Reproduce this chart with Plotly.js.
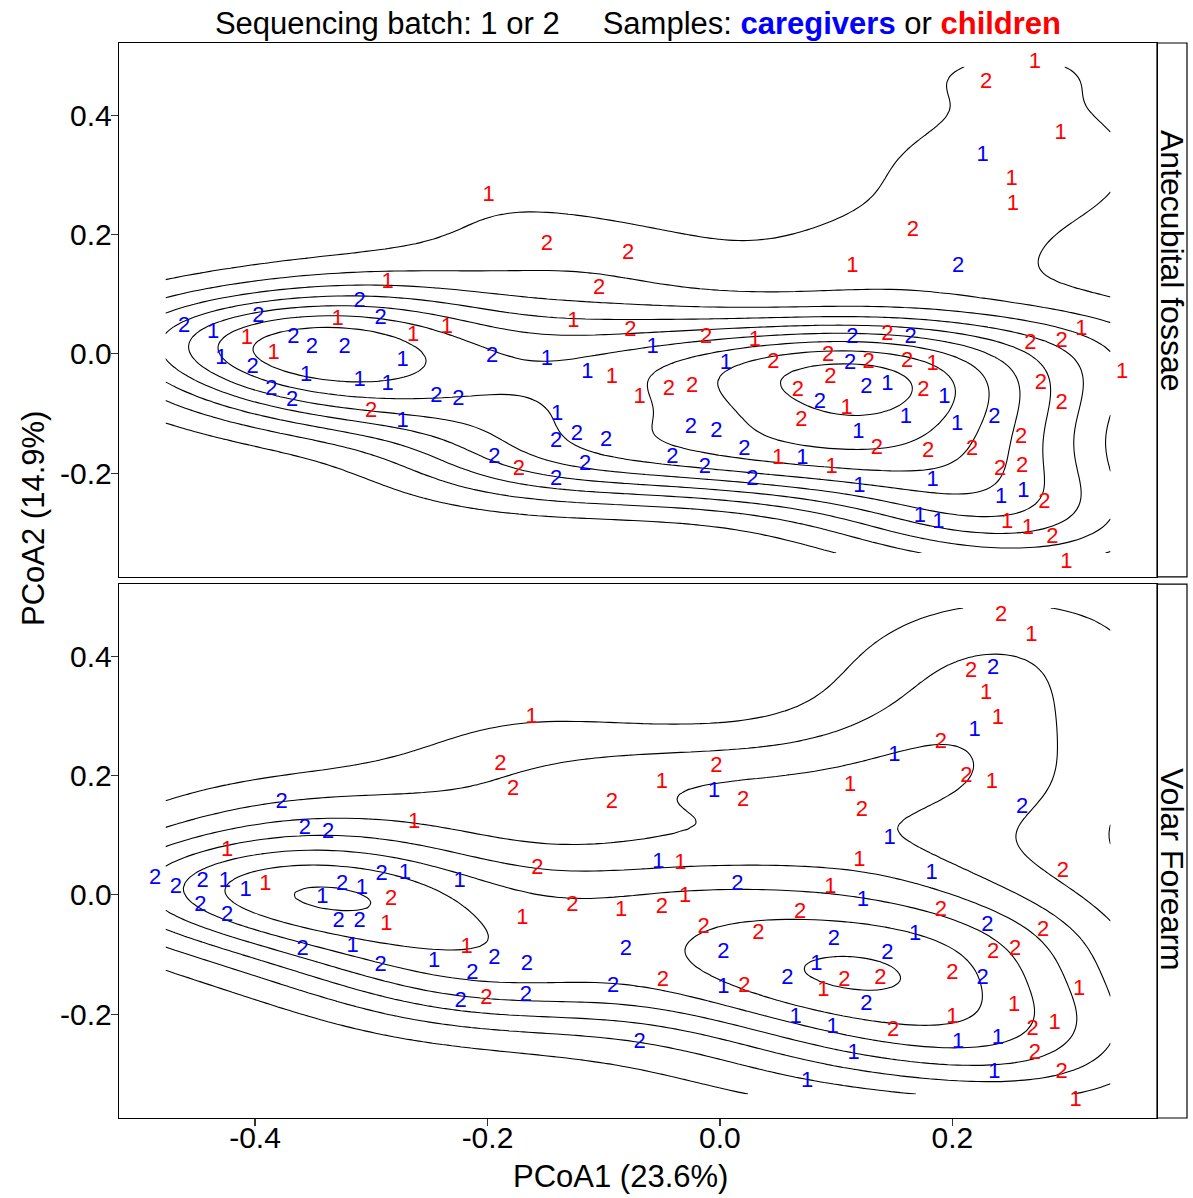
<!DOCTYPE html>
<html>
<head>
<meta charset="utf-8">
<script src="https://cdn.plot.ly/plotly-3.0.1.min.js"></script>
<style>html,body{margin:0;padding:0;background:#fff;}#plot{width:1193px;height:1198px;}</style>
</head>
<body>
<div id="plot"></div>
<script>
// ---------- DATA ----------
const facetNames = ["Antecubital fossae", "Volar Forearm"];
const xTickVals = [-0.4, -0.2, 0.0, 0.2];
const xTickText = ["-0.4", "-0.2", "0.0", "0.2"];
const yTickVals = [-0.2, 0.0, 0.2, 0.4];
const yTickText = ["-0.2", "0.0", "0.2", "0.4"];
// extent of the density grid as seen in the reference
const gridXLim = [-0.477, 0.336];
const gridYLim = [-0.334, 0.481];

// Antecubital fossae - caregivers (blue)
const antCareX = [0.226,0.205,-0.461,-0.397,-0.310,-0.292,-0.436,-0.367,-0.351,-0.323,-0.429,-0.402,-0.273,-0.356,-0.310,-0.286,-0.386,-0.368,-0.244,-0.225,-0.273,-0.196,-0.149,-0.058,-0.114,0.005,-0.140,-0.141,-0.123,-0.098,-0.025,-0.003,-0.194,-0.141,-0.116,-0.041,-0.013,0.021,0.028,0.071,0.114,0.164,0.112,0.126,0.144,0.193,0.086,0.160,0.204,0.236,0.119,0.183,0.120,0.242,0.261,0.172,0.188];
const antCareY = [0.332,0.147,0.045,0.062,0.087,0.060,0.035,0.028,0.010,0.010,-0.007,-0.023,-0.012,-0.037,-0.044,-0.052,-0.060,-0.079,-0.072,-0.077,-0.114,-0.005,-0.010,0.010,-0.032,-0.017,-0.102,-0.147,-0.136,-0.146,-0.124,-0.131,-0.174,-0.211,-0.186,-0.173,-0.191,-0.161,-0.211,-0.176,0.027,0.028,-0.017,-0.057,-0.052,-0.074,-0.082,-0.107,-0.119,-0.106,-0.132,-0.213,-0.223,-0.241,-0.231,-0.273,-0.282];
const antCareBatch = [1,2,2,2,2,2,1,2,2,2,1,2,1,1,1,1,2,2,2,2,1,2,1,1,1,1,1,2,2,2,2,2,2,2,2,2,2,2,2,1,2,2,2,2,1,1,2,1,1,2,1,1,1,1,1,1,1];

// Antecubital fossae - children (red)
const antChildX = [-0.199,-0.149,-0.079,-0.104,-0.286,-0.126,-0.077,-0.012,0.030,-0.329,-0.235,-0.264,-0.407,-0.384,-0.300,-0.173,-0.093,-0.069,-0.044,-0.024,0.046,0.067,0.070,0.050,0.271,0.229,0.293,0.251,0.252,0.166,0.114,0.144,0.093,0.128,0.161,0.183,0.095,0.175,0.109,0.135,0.179,0.217,0.259,0.096,0.241,0.260,0.279,0.247,0.265,0.286,0.298,0.267,0.294,0.311,0.346,0.276,0.294];
const antChildY = [0.266,0.183,0.169,0.109,0.119,0.054,0.039,0.027,0.023,0.057,0.044,0.030,0.025,0.000,-0.096,-0.194,-0.039,-0.074,-0.060,-0.054,-0.015,-0.062,-0.111,-0.176,0.488,0.454,0.370,0.292,0.251,0.206,0.147,0.032,-0.002,-0.015,-0.013,-0.018,-0.040,-0.062,-0.092,-0.159,-0.164,-0.161,-0.141,-0.191,-0.194,-0.189,-0.250,-0.282,-0.292,-0.308,-0.349,0.018,0.020,0.040,-0.032,-0.049,-0.084];
const antChildBatch = [1,2,2,2,1,1,2,2,1,1,1,1,1,1,2,2,1,1,2,2,2,2,2,1,1,2,1,1,1,2,1,2,2,2,2,1,2,2,1,2,2,2,2,1,2,2,2,1,1,2,1,2,2,1,1,2,2];

// Volar Forearm - caregivers (blue)
const volCareX = [-0.377,-0.357,-0.337,0.235,0.219,0.150,-0.005,0.260,0.146,-0.486,-0.468,-0.445,-0.426,-0.408,-0.447,-0.424,-0.342,-0.325,-0.308,-0.291,-0.271,-0.328,-0.310,-0.224,-0.359,-0.316,-0.292,-0.246,-0.194,-0.166,-0.213,-0.223,-0.167,-0.053,0.015,-0.081,0.003,0.003,0.058,-0.092,-0.069,0.065,0.075,0.182,0.123,0.230,0.168,0.098,0.144,0.083,0.226,0.126,0.097,0.205,0.239,0.115,0.236];
const volCareY = [0.154,0.111,0.104,0.379,0.275,0.233,0.174,0.146,0.094,0.028,0.013,0.023,0.023,0.007,-0.018,-0.035,-0.005,0.018,0.010,0.034,0.035,-0.045,-0.044,0.023,-0.091,-0.087,-0.119,-0.111,-0.107,-0.117,-0.131,-0.179,-0.168,0.054,0.018,-0.092,-0.096,-0.156,-0.141,-0.154,-0.248,-0.206,-0.313,0.035,-0.010,-0.052,-0.067,-0.075,-0.099,-0.116,-0.141,-0.183,-0.223,-0.248,-0.240,-0.266,-0.298];
const volCareBatch = [2,2,2,2,1,1,1,2,1,2,2,2,1,1,2,2,1,2,1,2,1,2,2,1,2,1,2,1,2,2,2,2,2,1,2,2,2,1,2,2,2,1,1,1,1,2,1,2,2,1,2,2,1,1,1,1,1];

// Volar Forearm - children (red)
const volChildX = [-0.263,-0.424,-0.162,-0.189,-0.178,-0.050,-0.093,-0.003,0.020,0.242,0.268,0.216,0.229,0.239,0.190,0.112,0.212,0.234,0.122,-0.391,-0.283,-0.287,-0.218,-0.157,-0.034,-0.030,-0.127,-0.085,-0.050,-0.170,-0.014,0.033,0.069,-0.049,0.021,-0.201,0.120,0.295,0.095,0.190,0.278,0.235,0.254,0.200,0.107,0.138,0.089,0.309,0.253,0.200,0.149,0.269,0.288,0.271,0.294,0.306];
const volChildY = [0.122,0.074,0.298,0.218,0.176,0.188,0.154,0.216,0.159,0.468,0.434,0.375,0.337,0.295,0.255,0.183,0.198,0.188,0.141,0.017,-0.007,-0.049,-0.089,0.045,0.052,-0.002,-0.018,-0.027,-0.022,-0.040,-0.055,-0.065,-0.030,-0.144,-0.153,-0.174,0.057,0.039,0.012,-0.027,-0.060,-0.096,-0.091,-0.131,-0.144,-0.141,-0.161,-0.158,-0.186,-0.206,-0.228,-0.225,-0.216,-0.266,-0.298,-0.345];
const volChildBatch = [1,1,1,2,2,1,2,2,2,2,1,2,1,1,2,1,2,1,2,1,2,1,1,2,1,1,2,1,2,1,2,2,2,2,2,2,1,2,1,2,2,2,2,2,2,2,1,1,1,1,2,2,1,2,2,1];

// ---------- KDE (MASS::kde2d style, as ggplot2 stat_density_2d) ----------
function quantile(sorted, p) {
  const h = (sorted.length - 1) * p, lo = Math.floor(h), hi = Math.ceil(h);
  return sorted[lo] + (h - lo) * (sorted[hi] - sorted[lo]);
}
function bandwidthNrd(v) {
  const n = v.length, m = v.reduce((a, b) => a + b, 0) / n;
  const sd = Math.sqrt(v.reduce((a, b) => a + (b - m) * (b - m), 0) / (n - 1));
  const s = v.slice().sort((a, b) => a - b);
  const r = quantile(s, 0.75) - quantile(s, 0.25);
  return 4 * 1.06 * Math.min(sd, r / 1.34) * Math.pow(n, -0.2);
}
function linspace(a, b, n) { const o = []; for (let i = 0; i < n; i++) o.push(a + (b - a) * i / (n - 1)); return o; }
function dnorm(u) { return Math.exp(-0.5 * u * u) / Math.sqrt(2 * Math.PI); }
function kde2d(xs, ys, gx, gy) {
  const hx = bandwidthNrd(xs) / 4, hy = bandwidthNrd(ys) / 4, n = xs.length;
  const z = [];
  for (let j = 0; j < gy.length; j++) {
    const row = [];
    for (let i = 0; i < gx.length; i++) {
      let s = 0;
      for (let k = 0; k < n; k++) s += dnorm((gx[i] - xs[k]) / hx) * dnorm((gy[j] - ys[k]) / hy);
      row.push(s / (n * hx * hy));
    }
    z.push(row);
  }
  return z;
}
function prettyStep(lo, hi, ndiv) {
  const cell = (hi - lo) / ndiv;
  const U = Math.pow(10, Math.floor(Math.log10(cell)));
  let unit = U; const h = 1.5, h5 = 0.5 + 1.5 * h;
  if (2 * U - cell < h * (cell - unit)) { unit = 2 * U;
    if (5 * U - cell < h5 * (cell - unit)) { unit = 5 * U;
      if (10 * U - cell < h * (cell - unit)) unit = 10 * U; } }
  return unit;
}

const gx = linspace(gridXLim[0], gridXLim[1], 100);
const gy = linspace(gridYLim[0], gridYLim[1], 100);
const zAnt = kde2d(antCareX.concat(antChildX), antCareY.concat(antChildY), gx, gy);
const zVol = kde2d(volCareX.concat(volChildX), volCareY.concat(volChildY), gx, gy);
let zmin = Infinity, zmax = -Infinity;
[zAnt, zVol].forEach(z => z.forEach(r => r.forEach(v => { if (v < zmin) zmin = v; if (v > zmax) zmax = v; })));
const step = prettyStep(zmin, zmax, 10);

const BLUE = "#0000FF", RED = "#FF0000";
const FONT = "Liberation Sans, Arial, sans-serif";

function contourTrace(z, xa, ya) {
  return {
    type: "contour", x: gx, y: gy, z: z, xaxis: xa, yaxis: ya,
    autocontour: false,
    contours: { start: step, end: Math.ceil(zmax / step) * step, size: step, coloring: "lines" },
    colorscale: [[0, "#000000"], [1, "#000000"]],
    line: { width: 1.1, smoothing: 1 },
    showscale: false, hoverinfo: "skip"
  };
}
function textTrace(xs, ys, batch, color, xa, ya) {
  return {
    type: "scatter", mode: "text", x: xs, y: ys, text: batch.map(String),
    textposition: "middle center", textfont: { family: FONT, size: 22, color: color },
    xaxis: xa, yaxis: ya, hoverinfo: "skip", cliponaxis: false, showlegend: false
  };
}

const data = [
  contourTrace(zAnt, "x", "y"),
  contourTrace(zVol, "x2", "y2"),
  textTrace(antCareX, antCareY, antCareBatch, BLUE, "x", "y"),
  textTrace(antChildX, antChildY, antChildBatch, RED, "x", "y"),
  textTrace(volCareX, volCareY, volCareBatch, BLUE, "x2", "y2"),
  textTrace(volChildX, volChildY, volChildBatch, RED, "x2", "y2")
];

const XR = [-0.517, 0.376], YR = [-0.374, 0.521];
const topDom = [0.5033, 1], botDom = [0, 0.4967];
const axBase = {
  showgrid: false, zeroline: false, showline: true, mirror: true,
  linecolor: "#000", linewidth: 1.2, ticklen: 7, tickwidth: 1.1, tickcolor: "#333",
  tickfont: { family: FONT, size: 30, color: "#000" }
};
const pxY = py => (1118 - py) / 1075;
const pxX = px => (px - 119) / 1038;

const layout = {
  width: 1193, height: 1198,
  margin: { l: 119, r: 36, t: 43, b: 80 },
  paper_bgcolor: "#fff", plot_bgcolor: "#fff",
  showlegend: false,
  font: { family: FONT, color: "#000" },
  title: {
    text: "Sequencing batch: 1 or 2\u00A0\u00A0\u00A0\u00A0\u00A0Samples: <b><span style='color:#0000FF'>caregivers</span></b> or <b><span style='color:#FF0000'>children</span></b>",
    font: { family: FONT, size: 31, color: "#000" },
    x: 0.5, xref: "paper", xanchor: "center",
    y: 1 - 23 / 1198, yref: "container", yanchor: "middle"
  },
  xaxis: Object.assign({}, axBase, { domain: [0, 1], range: XR, anchor: "y", showticklabels: false, ticks: "" }),
  yaxis: Object.assign({}, axBase, { domain: topDom, range: YR, anchor: "x", ticks: "outside", tickmode: "array", tickvals: yTickVals, ticktext: yTickText, ticklabelstandoff: -7 }),
  xaxis2: Object.assign({}, axBase, { domain: [0, 1], range: XR, anchor: "y2", ticks: "outside", tickmode: "array", tickvals: xTickVals, ticktext: xTickText, ticklabelstandoff: -14 }),
  yaxis2: Object.assign({}, axBase, { domain: botDom, range: YR, anchor: "x2", ticks: "outside", tickmode: "array", tickvals: yTickVals, ticktext: yTickText, ticklabelstandoff: -7 }),
  shapes: [
    { type: "rect", xref: "paper", yref: "paper", x0: 1, x1: pxX(1187), y0: topDom[0], y1: topDom[1], line: { color: "#000", width: 1.2 }, fillcolor: "#fff", layer: "below" },
    { type: "rect", xref: "paper", yref: "paper", x0: 1, x1: pxX(1187), y0: botDom[0], y1: botDom[1], line: { color: "#000", width: 1.2 }, fillcolor: "#fff", layer: "below" }
  ],
  annotations: [
    { text: facetNames[0], xref: "paper", yref: "paper", x: pxX(1172), y: pxY(261), textangle: 90, showarrow: false, xanchor: "center", yanchor: "middle", font: { family: FONT, size: 32, color: "#000" } },
    { text: facetNames[1], xref: "paper", yref: "paper", x: pxX(1172), y: pxY(869), textangle: 90, showarrow: false, xanchor: "center", yanchor: "middle", font: { family: FONT, size: 32, color: "#000" } },
    { text: "PCoA1 (23.6%)", xref: "paper", yref: "paper", x: pxX(620), y: pxY(1176), showarrow: false, xanchor: "center", yanchor: "middle", font: { family: FONT, size: 31, color: "#000" } },
    { text: "PCoA2 (14.9%)", xref: "paper", yref: "paper", x: pxX(33), y: pxY(519), textangle: -90, showarrow: false, xanchor: "center", yanchor: "middle", font: { family: FONT, size: 31, color: "#000" } }
  ]
};

Plotly.newPlot("plot", data, layout, { staticPlot: true, displayModeBar: false });
</script>
</body>
</html>
